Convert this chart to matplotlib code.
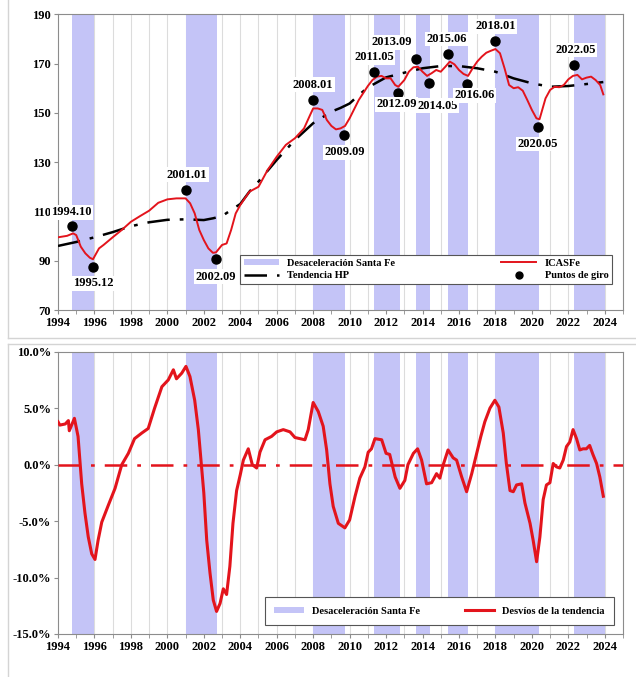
import matplotlib
matplotlib.use("Agg")
import matplotlib.pyplot as plt
from matplotlib.lines import Line2D
from matplotlib.patches import Patch

# ---------------- data ----------------
icasfe_t = [1994.0, 1994.5, 1994.83, 1995.0, 1995.25, 1995.5, 1995.75, 1995.92, 1996.25, 1996.5,
            1997.0, 1997.5, 1998.0, 1998.5, 1999.0, 1999.5, 2000.0, 2000.5, 2001.0, 2001.25,
            2001.5, 2001.75, 2002.0, 2002.25, 2002.5, 2002.67, 2003.0, 2003.25, 2003.5, 2003.75,
            2004.0, 2004.5, 2005.0, 2005.5, 2006.0, 2006.5, 2007.0, 2007.5, 2007.83, 2008.0,
            2008.25, 2008.5, 2008.75, 2009.0, 2009.25, 2009.5, 2009.75, 2010.0, 2010.5, 2011.0,
            2011.25, 2011.5, 2011.75, 2012.0, 2012.25, 2012.5, 2012.67, 2013.0, 2013.25, 2013.5,
            2013.75, 2014.0, 2014.25, 2014.5, 2014.75, 2015.0, 2015.25, 2015.5, 2015.75, 2016.0,
            2016.25, 2016.5, 2016.75, 2017.0, 2017.25, 2017.5, 2017.75, 2018.0, 2018.25, 2018.5,
            2018.75, 2019.0, 2019.25, 2019.5, 2019.75, 2020.0, 2020.25, 2020.42, 2020.75, 2021.0,
            2021.25, 2021.5, 2021.75, 2022.0, 2022.25, 2022.5, 2022.75, 2023.0, 2023.25, 2023.5,
            2023.75, 2023.92]
icasfe_v = [99.5, 100.1, 101.1, 100.4, 95.7, 93.0, 91.2, 90.6, 95.0, 96.4,
            99.5, 102.5, 105.8, 108.1, 110.3, 113.5, 114.9, 115.3, 115.3, 113.3,
            109.2, 102.5, 98.4, 95.0, 93.2, 93.4, 96.4, 97.0, 102.5, 109.2,
            112.6, 118.0, 120.0, 126.8, 132.2, 137.0, 139.7, 143.7, 149.1, 151.8,
            151.8, 151.2, 147.1, 144.7, 143.3, 143.7, 144.7, 147.8, 155.2, 160.9,
            163.3, 164.7, 165.0, 164.0, 164.0, 161.3, 160.6, 163.3, 166.7, 168.5,
            168.7, 166.7, 165.0, 166.1, 167.4, 166.7, 168.7, 170.8, 169.7, 167.4,
            165.8, 165.0, 168.1, 170.8, 172.8, 174.4, 175.2, 175.9, 174.2, 168.1,
            161.3, 160.0, 160.4, 159.0, 155.2, 151.2, 147.8, 147.4, 155.9, 159.3,
            160.6, 160.4, 161.3, 163.6, 165.0, 165.4, 163.6, 164.3, 164.7, 163.3,
            161.3, 157.5]

trend_t = [1994.0, 1995.0, 1996.0, 1997.0, 1998.0, 1999.0, 2000.0, 2001.0, 2002.0, 2002.5,
           2003.0, 2003.5, 2004.0, 2004.5, 2005.0, 2006.0, 2007.0, 2008.0, 2009.0, 2009.5,
           2010.0, 2010.5, 2011.0, 2012.0, 2013.0, 2014.0, 2015.0, 2016.0, 2017.0, 2018.0,
           2019.0, 2020.0, 2021.0, 2022.0, 2023.0, 2023.92]
trend_v = [96.0, 97.6, 99.5, 101.6, 104.0, 105.6, 106.6, 106.8, 106.5, 107.2,
           108.1, 110.6, 113.0, 118.0, 122.1, 130.9, 139.0, 145.8, 150.5, 152.0,
           153.8, 157.2, 160.3, 164.4, 166.3, 168.1, 169.0, 169.0, 168.1, 166.7,
           164.0, 162.0, 160.6, 160.9, 161.7, 162.5]

turn_labels = ["1994.10", "1995.12", "2001.01", "2002.09", "2008.01", "2009.09", "2011.05",
               "2012.09", "2013.09", "2014.05", "2015.06", "2016.06", "2018.01", "2020.05",
               "2022.05"]
turn_v = [104.0, 87.6, 118.7, 90.6, 155.2, 141.0, 166.7, 158.0, 171.9, 162.2, 173.8, 161.7,
          179.0, 144.4, 169.3]

dev_t = [1994.0, 1994.1, 1994.4, 1994.57, 1994.62, 1994.9, 1995.1, 1995.3, 1995.48, 1995.66,
         1995.85, 1996.03, 1996.2, 1996.4, 1996.76, 1997.13, 1997.5, 1997.86, 1998.2, 1998.6,
         1998.95, 1999.3, 1999.7, 2000.05, 2000.33, 2000.5, 2000.79, 2001.02, 2001.24, 2001.5,
         2001.7, 2001.88, 2002.0, 2002.16, 2002.34, 2002.52, 2002.7, 2002.89, 2003.07, 2003.25,
         2003.43, 2003.6, 2003.8, 2004.0, 2004.17, 2004.44, 2004.66, 2004.9, 2005.08, 2005.36,
         2005.72, 2006.0, 2006.36, 2006.73, 2007.0, 2007.27, 2007.55, 2007.73, 2008.0, 2008.28,
         2008.55, 2008.74, 2008.92, 2009.1, 2009.38, 2009.74, 2010.0, 2010.3, 2010.56, 2010.84,
         2011.02, 2011.2, 2011.39, 2011.76, 2012.0, 2012.2, 2012.5, 2012.76, 2013.03, 2013.2,
         2013.5, 2013.73, 2013.95, 2014.22, 2014.5, 2014.77, 2014.95, 2015.14, 2015.4, 2015.68,
         2015.87, 2016.15, 2016.42, 2016.7, 2016.97, 2017.2, 2017.42, 2017.7, 2017.97, 2018.19,
         2018.43, 2018.6, 2018.8, 2018.98, 2019.16, 2019.44, 2019.62, 2019.9, 2020.07, 2020.26,
         2020.44, 2020.62, 2020.8, 2020.99, 2021.17, 2021.35, 2021.53, 2021.72, 2021.9, 2022.08,
         2022.26, 2022.45, 2022.63, 2022.81, 2022.99, 2023.17, 2023.35, 2023.55, 2023.73, 2023.92]
dev_v = [3.8, 3.5, 3.6, 3.9, 3.0, 4.1, 2.5, -1.7, -4.3, -6.4,
         -7.9, -8.4, -6.7, -5.1, -3.6, -2.1, 0.0, 1.0, 2.3, 2.8,
         3.2, 5.0, 6.9, 7.5, 8.4, 7.6, 8.1, 8.7, 7.8, 5.7,
         3.1, -0.2, -2.5, -6.7, -9.6, -12.0, -13.0, -12.3, -11.0, -11.5,
         -9.0, -5.2, -2.3, -0.9, 0.4, 1.4, 0.0, -0.3, 1.1, 2.2,
         2.5, 2.9, 3.1, 2.9, 2.4, 2.3, 2.2, 3.1, 5.5, 4.7,
         3.4, 1.3, -1.7, -3.7, -5.2, -5.6, -4.9, -2.8, -1.2, -0.2,
         1.1, 1.4, 2.3, 2.2, 1.0, 0.9, -1.1, -2.1, -1.4, 0.0,
         1.0, 1.4, 0.4, -1.7, -1.6, -0.8, -1.2, 0.0, 1.3, 0.6,
         0.4, -1.1, -2.4, -0.8, 1.0, 2.5, 3.8, 5.0, 5.7, 5.1,
         2.8, 0.1, -2.3, -2.4, -1.8, -1.7, -3.4, -5.2, -6.7, -8.6,
         -6.4, -3.1, -1.8, -1.6, 0.1, -0.2, -0.3, 0.4, 1.6, 2.0,
         3.1, 2.3, 1.3, 1.4, 1.4, 1.7, 0.9, 0.1, -1.1, -2.8]

band_start = ["1994.10", "2001.01", "2008.01", "2011.05", "2013.09", "2015.06", "2018.01", "2022.05"]
band_end = ["1995.12", "2002.09", "2009.09", "2012.09", "2014.05", "2016.06", "2020.05", "2023.12"]

year_ticks = list(range(1994, 2025, 2))
top_yticks = [70, 90, 110, 130, 150, 170, 190]
bot_yticks = [-15, -10, -5, 0, 5, 10]

# ---------------- style ----------------
RED = "#e3141c"
BAND = "#c4c4f7"
GRID = "#dcdcdc"
SPINE = "#8c8c8c"
FONT = "Liberation Serif"

def ym(s):
    y, m = s.split(".")
    return int(y) + (int(m) - 1) / 12.0

# label offsets (points) relative to each turning-point dot
lab_off = [(0, 10), (0, -12), (1, 11), (0, -12.5), (0, 11), (1, -12.5), (0, 10.5), (-1, -8),
           (-17.5, 12), (6.5, -16.5), (-1, 11), (5.5, -8), (0, 11), (0, -12.5), (1, 11)]

fig = plt.figure(figsize=(6.36, 6.77), dpi=100)

# panel frames
fig.add_artist(Line2D([8/636, 8/636], [1 - 0/677, 1 - 338/677], transform=fig.transFigure, color="#d4d4d4", lw=1))
fig.add_artist(Line2D([8/636, 1.0], [1 - 338/677, 1 - 338/677], transform=fig.transFigure, color="#d4d4d4", lw=1))
fig.add_artist(Line2D([8/636, 8/636], [1 - 344/677, 0], transform=fig.transFigure, color="#d4d4d4", lw=1))
fig.add_artist(Line2D([8/636, 1.0], [1 - 344/677, 1 - 344/677], transform=fig.transFigure, color="#d4d4d4", lw=1))

L, R = 58/636, 623/636
ax1 = fig.add_axes([L, 1 - 310/677, R - L, (310 - 14.3)/677])
ax2 = fig.add_axes([L, 1 - 634/677, R - L, (634 - 351.7)/677])

def style_axes(ax):
    ax.set_xlim(1994, 2025)
    for y in range(1995, 2025):
        ax.axvline(y, color=GRID, lw=0.8, zorder=0)
    for s, e in zip(band_start, band_end):
        ax.axvspan(ym(s), ym(e) + 1/12.0, color=BAND, lw=0, zorder=1)
    ax.set_xticks(year_ticks)
    ax.set_xticks(range(1994, 2026), minor=True)
    ax.tick_params(axis="x", which="both", length=3, color=SPINE, pad=2)
    ax.tick_params(axis="y", length=3, color=SPINE, pad=2)
    for sp in ax.spines.values():
        sp.set_color(SPINE)
        sp.set_linewidth(0.8)
    for lab in ax.get_xticklabels() + ax.get_yticklabels():
        lab.set_fontfamily(FONT)
        lab.set_fontweight("bold")
        lab.set_fontsize(9)

# ---- top panel ----
ax1.set_ylim(70, 190)
ax1.set_yticks(top_yticks)
ax1.plot(trend_t, trend_v, color="black", lw=1.8, dashes=(9, 4, 1.5, 4), zorder=3)
ax1.plot(icasfe_t, icasfe_v, color=RED, lw=1.4, zorder=4)
tx = [ym(s) for s in turn_labels]
ax1.plot(tx, turn_v, "o", color="black", ms=6.5, zorder=5)
for s, x, v, off in zip(turn_labels, tx, turn_v, lab_off):
    ax1.annotate(s, (x, v), xytext=off, textcoords="offset points", ha="center", va="center",
                 fontfamily=FONT, fontweight="bold", fontsize=9, zorder=6,
                 bbox=dict(facecolor="white", edgecolor="none", pad=1.0))
style_axes(ax1)

h1 = [Patch(facecolor=BAND, edgecolor="none"),
      Line2D([], [], color="black", lw=1.8, dashes=(9, 4, 1.5, 4)),
      Line2D([], [], color=RED, lw=1.4),
      Line2D([], [], color="black", marker="o", ms=5, ls="none")]
leg1 = ax1.legend(h1, ["Desaceleración Santa Fe", "Tendencia HP", "ICASFe", "Puntos de giro"],
                  ncol=2, loc="lower left", bbox_to_anchor=((240-58)/565, (310-284)/295.7, (612-240)/565, 30/295.7),
                  mode="expand", frameon=True, fancybox=False, edgecolor="#555555", framealpha=1,
                  prop={"family": FONT, "weight": "bold", "size": 7.5}, handlelength=3.4,
                  handleheight=0.6, borderpad=0.35, labelspacing=0.35, borderaxespad=0)
leg1.get_frame().set_linewidth(0.8)
leg1.set_zorder(7)

# ---- bottom panel ----
ax2.set_ylim(-15, 10)
ax2.set_yticks(bot_yticks)
ax2.set_yticklabels([f"{v:.1f}%" for v in bot_yticks])
ax2.axhline(0, color=RED, lw=1.8, dashes=(9, 4, 1.5, 4), zorder=3)
ax2.plot(dev_t, dev_v, color=RED, lw=2.2, zorder=4)
style_axes(ax2)

h2 = [Patch(facecolor=BAND, edgecolor="none"), Line2D([], [], color=RED, lw=2.2)]
leg2 = ax2.legend(h2, ["Desaceleración Santa Fe", "Desvíos de la tendencia"], ncol=2, loc="lower left",
                  bbox_to_anchor=((265-58)/565, (634-625)/282.3, (614-265)/565, 34/282.3),
                  mode="expand", frameon=True, fancybox=False, edgecolor="#555555", framealpha=1,
                  prop={"family": FONT, "weight": "bold", "size": 7.5}, handlelength=2.8,
                  handleheight=0.6, borderpad=0.9, borderaxespad=0)
leg2.get_frame().set_linewidth(0.8)
leg2.set_zorder(7)

fig.savefig("out.png", dpi=100)
